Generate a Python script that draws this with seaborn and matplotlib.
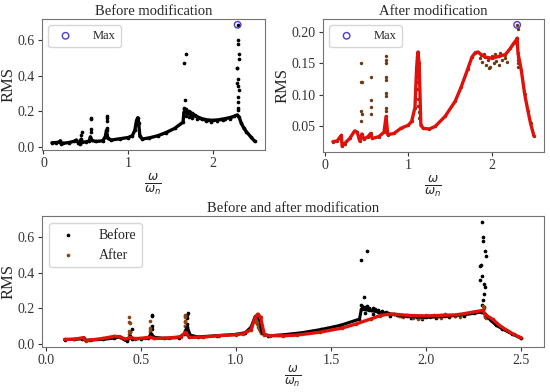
import numpy as np
import matplotlib
matplotlib.use("Agg")
import matplotlib.pyplot as plt
import seaborn as sns

# frequency ratio / RMS
before_x = [0.10, 0.15, 0.19, 0.20, 0.21, 0.23, 0.30, 0.36, 0.39, 0.41, 0.43, 0.445, 0.455,
            0.50, 0.54, 0.555, 0.57, 0.62, 0.70, 0.73, 0.745, 0.76, 0.80, 0.90, 1.00, 1.05,
            1.08, 1.10, 1.115, 1.125, 1.14, 1.17, 1.25, 1.35, 1.45, 1.55, 1.65, 1.66, 1.70,
            1.75, 1.80, 1.85, 1.90, 1.95, 2.00, 2.05, 2.10, 2.15, 2.20, 2.25, 2.29, 2.31,
            2.34, 2.37, 2.40, 2.45, 2.50]
before_y = [0.025, 0.026, 0.029, 0.036, 0.020, 0.022, 0.026, 0.033, 0.040, 0.026, 0.017, 0.045, 0.028,
            0.030, 0.034, 0.058, 0.038, 0.032, 0.036, 0.058, 0.095, 0.050, 0.040, 0.047, 0.054, 0.064,
            0.095, 0.150, 0.165, 0.135, 0.060, 0.046, 0.052, 0.064, 0.082, 0.105, 0.140, 0.195, 0.190,
            0.180, 0.172, 0.163, 0.155, 0.152, 0.150, 0.152, 0.155, 0.160, 0.165, 0.172, 0.180, 0.170,
            0.133, 0.105, 0.086, 0.058, 0.032]

before_spike_x = [0.455, 0.445, 0.56, 0.56, 0.56, 0.56, 0.75, 0.745, 0.745, 0.745, 1.66, 1.69, 1.675,
                  1.66, 1.665, 1.67, 1.68, 1.685, 1.69, 1.70, 1.71, 1.72, 1.73, 1.75, 1.77, 1.79,
                  1.83, 1.87, 1.92, 1.98, 2.05, 2.12, 2.20, 1.68, 1.72, 1.76, 1.81,
                  2.295, 2.30, 2.30, 2.31, 2.315, 2.29, 2.285, 2.295, 2.285, 2.305, 2.31, 2.305,
                  2.30, 2.295, 2.305]
before_spike_y = [0.086, 0.07, 0.163, 0.155, 0.10, 0.085, 0.172, 0.165, 0.145, 0.11, 0.47, 0.52, 0.265,
                  0.22, 0.215, 0.205, 0.21, 0.195, 0.215, 0.205, 0.19, 0.20, 0.195, 0.19, 0.185, 0.18,
                  0.17, 0.16, 0.145, 0.14, 0.145, 0.15, 0.16, 0.175, 0.17, 0.165, 0.16,
                  0.684, 0.60, 0.578, 0.52, 0.495, 0.444, 0.44, 0.383, 0.36, 0.34, 0.32, 0.28,
                  0.25, 0.22, 0.21]

after_x = [0.10, 0.15, 0.19, 0.20, 0.21, 0.24, 0.30, 0.36, 0.39, 0.42, 0.445, 0.47, 0.52, 0.55,
           0.57, 0.65, 0.71, 0.735, 0.755, 0.83, 0.91, 1.00, 1.04, 1.08, 1.10, 1.115, 1.13, 1.15,
           1.18, 1.25, 1.32, 1.44, 1.56, 1.63, 1.71, 1.76, 1.80, 1.83, 1.87, 1.92, 2.00, 2.08,
           2.16, 2.22, 2.26, 2.29, 2.30, 2.31, 2.35, 2.39, 2.43, 2.46, 2.50]
after_y = [0.026, 0.027, 0.034, 0.036, 0.019, 0.023, 0.031, 0.043, 0.041, 0.027, 0.038, 0.030, 0.034, 0.039,
           0.031, 0.034, 0.041, 0.066, 0.037, 0.039, 0.047, 0.052, 0.058, 0.080, 0.144, 0.168, 0.150, 0.052,
           0.047, 0.046, 0.050, 0.066, 0.090, 0.112, 0.141, 0.160, 0.167, 0.168, 0.164, 0.160, 0.158, 0.161,
           0.164, 0.174, 0.182, 0.187, 0.190, 0.166, 0.139, 0.101, 0.074, 0.055, 0.035]

after_spike_x = [0.44, 0.44, 0.445, 0.44, 0.445, 0.44, 0.55, 0.55, 0.55, 0.55, 0.735, 0.735, 0.735,
                 0.735, 0.735, 0.735, 0.735, 0.735, 0.735, 1.10, 1.105, 1.11, 1.105, 1.11, 1.115,
                 1.12, 1.125, 1.13, 2.30, 2.305, 2.31, 2.31, 2.31, 2.315,
                 1.86, 1.88, 1.90, 1.93, 1.95, 1.98, 2.00, 2.02, 2.05, 2.08, 2.10, 2.12, 2.15,
                 2.18, 1.96, 2.04]
after_spike_y = [0.151, 0.121, 0.12, 0.074, 0.069, 0.058, 0.129, 0.092, 0.081, 0.07, 0.162, 0.155, 0.151,
                 0.128, 0.123, 0.103, 0.099, 0.08, 0.074, 0.16, 0.155, 0.142, 0.121, 0.11, 0.094,
                 0.083, 0.073, 0.063, 0.211, 0.205, 0.16, 0.155, 0.15, 0.145,
                 0.158, 0.152, 0.165, 0.148, 0.155, 0.145, 0.162, 0.15, 0.153, 0.148, 0.166, 0.155, 0.158,
                 0.152, 0.142, 0.165]

max_before = (2.295, 0.684)
max_after = (2.30, 0.211)

sns.set_style("ticks")
plt.rcParams["font.family"] = ["Liberation Serif", "DejaVu Serif"]
plt.rcParams["axes.edgecolor"] = "0.45"
plt.rcParams["xtick.color"] = "0.2"
plt.rcParams["ytick.color"] = "0.2"
plt.rcParams["xtick.labelsize"] = 10
plt.rcParams["ytick.labelsize"] = 10
plt.rcParams["xtick.major.size"] = 3
plt.rcParams["ytick.major.size"] = 3
plt.rcParams["xtick.major.pad"] = 2
plt.rcParams["ytick.major.pad"] = 2

dot_before = "black"
dot_after = "#8b4513"
line_after = "#e0110b"
max_color = "#4a3fd0"
xlab = r"$\frac{\omega}{\omega_n}$"

fig = plt.figure(figsize=(5.5, 3.92), dpi=100)
ax1 = fig.add_axes([0.076, 0.617, 0.406, 0.335])
ax2 = fig.add_axes([0.587, 0.612, 0.402, 0.340])
ax3 = fig.add_axes([0.076, 0.115, 0.913, 0.333])

# before modification
sns.lineplot(x=before_x, y=before_y, color=dot_before, lw=2.4, sort=False, estimator=None, ax=ax1)
sns.scatterplot(x=before_x + before_spike_x, y=before_y + before_spike_y, color=dot_before,
                s=7, linewidth=0, ax=ax1)
ax1.scatter([max_before[0]], [max_before[1]], s=22, facecolors="none", edgecolors=max_color,
            linewidths=1.0, label="Max")
ax1.legend(loc="upper left", fontsize=9, handletextpad=1.2)
ax1.set_title("Before modification", fontsize=10.5, pad=3)
ax1.set_ylabel("RMS", fontsize=12, labelpad=1)
ax1.set_xlabel(xlab, fontsize=12.5, labelpad=1)
ax1.set_yticks([0.0, 0.2, 0.4, 0.6])

# after modification
sns.lineplot(x=after_x, y=after_y, color=line_after, lw=2.4, sort=False, estimator=None, ax=ax2)
sns.scatterplot(x=after_x + after_spike_x, y=after_y + after_spike_y, color="#6b3a10",
                s=6, linewidth=0, ax=ax2)
ax2.scatter([max_after[0]], [max_after[1]], s=22, facecolors="none", edgecolors=max_color,
            linewidths=1.0, label="Max")
ax2.legend(loc="upper left", fontsize=9, handletextpad=1.2)
ax2.set_title("After modification", fontsize=10.5, pad=3)
ax2.set_ylabel("RMS", fontsize=12, labelpad=1)
ax2.set_xlabel(xlab, fontsize=12.5, labelpad=1)
ax2.set_yticks([0.05, 0.10, 0.15, 0.20])

# comparison
sns.lineplot(x=before_x, y=before_y, color=dot_before, lw=2.2, sort=False, estimator=None, ax=ax3)
sns.scatterplot(x=before_x + before_spike_x, y=before_y + before_spike_y, color=dot_before,
                s=7, linewidth=0, ax=ax3, label="Before")
sns.lineplot(x=after_x, y=after_y, color=line_after, lw=2.4, sort=False, estimator=None, ax=ax3)
sns.scatterplot(x=after_x + after_spike_x, y=after_y + after_spike_y, color=dot_after,
                s=7, linewidth=0, ax=ax3, label="After")
ax3.legend(loc="upper left", fontsize=10, handletextpad=1.2)
ax3.set_title("Before and after modification", fontsize=10.5, pad=3)
ax3.set_ylabel("RMS", fontsize=12, labelpad=1)
ax3.set_xlabel(xlab, fontsize=12, labelpad=-2)
ax3.set_xticks([0.0, 0.5, 1.0, 1.5, 2.0, 2.5])
ax3.set_yticks([0.0, 0.2, 0.4, 0.6])

fig.savefig("out.png", dpi=100)
